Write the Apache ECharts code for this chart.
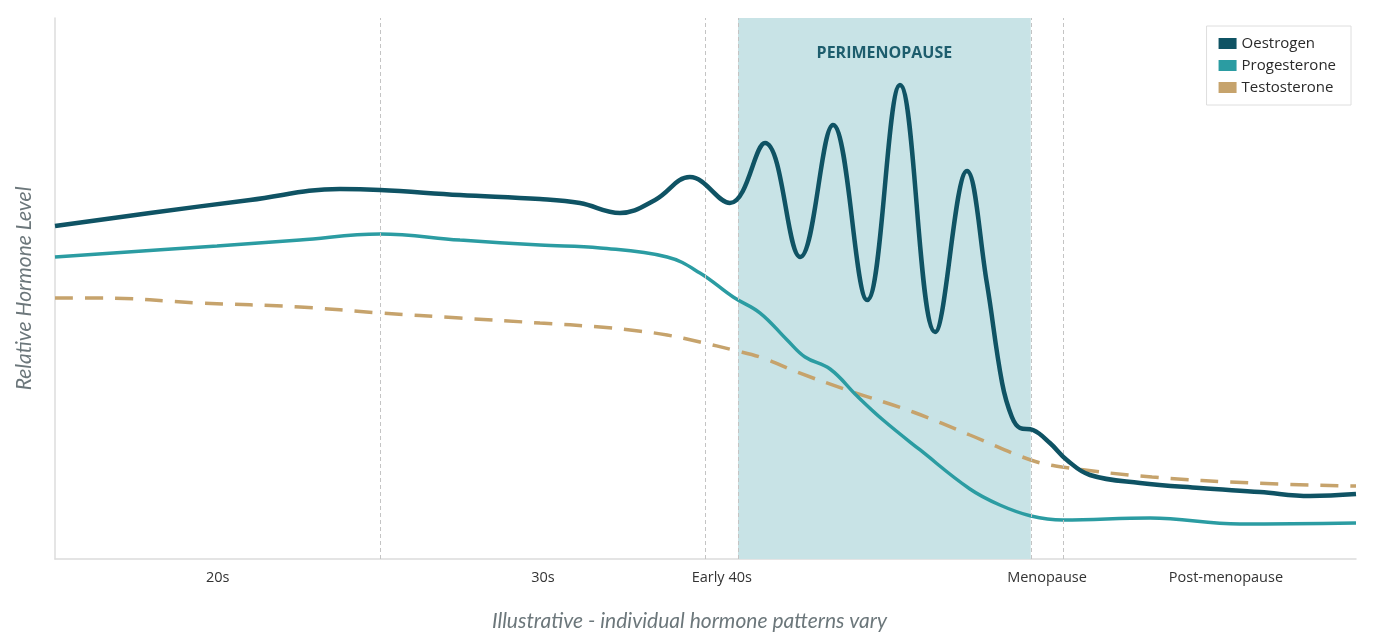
<!DOCTYPE html>
<html><head><meta charset="utf-8">
<script src="https://cdn.jsdelivr.net/npm/echarts@6/dist/echarts.min.js"></script>
<style>html,body{margin:0;padding:0;background:#fff}#c{width:1379px;height:639px}</style>
</head><body><div id="c"></div>
<script>
// x: life stage position (0–40), y: relative level (0–100)
const oestrogenX = [0,2.92,6.0,8.76,9.99,12.45,14.91,16.14,17.37,18.45,19.52,20.75,21.83,22.91,23.92,24.97,25.98,27.06,28.04,28.65,29.12,29.42,29.67,30.07,30.59,31.11,31.82,33.36,35.2,37.05,38.59,40];
const oestrogenY = [61.55,63.96,66.36,68.39,68.21,67.28,66.54,65.8,63.96,66.36,70.61,65.8,76.89,55.82,80.22,47.87,87.62,41.96,71.72,51.02,32.53,26.25,24.21,23.84,21.44,18.3,15.53,14.05,13.12,12.38,11.65,12.01];
const progesteroneX = [0,4.98,7.53,9.99,12.45,14.91,16.76,18.82,19.83,20.85,21.68,22.51,23.06,23.83,24.66,25.46,26.6,28.13,29.05,30.01,30.99,33.67,36.43,40];
const progesteroneY = [55.82,57.86,58.96,60.07,58.96,58.04,57.49,55.82,52.87,48.43,45.47,40.48,37.34,35.12,30.13,25.69,20.15,12.94,9.98,7.95,7.21,7.58,6.47,6.65];
const testosteroneX = [0,1.38,4.46,7.53,9.99,12.45,14.91,16.76,18.0,18.82,19.83,20.85,21.77,22.81,24.35,26.38,28.13,30.0,30.96,33.73,36.8,40];
const testosteroneY = [48.24,48.24,47.32,46.58,45.47,44.55,43.62,42.88,42.1,41.4,40.11,38.63,37.14,34.57,31.24,27.17,22.92,18.3,17.01,15.16,14.05,13.49];
const stageTickValues = [5,15,20.5,30.5,36];
const stageTickLabels = ['20s','30s','Early 40s','Menopause','Post-menopause'];
const dividerValues = [10,20,21,30,31];
const perimenopauseRange = [21,30];
const seriesNames = ['Oestrogen','Progesterone','Testosterone'];

const zip = (xs, ys) => xs.map((x, i) => [x, ys[i]]);
const colors = ['#0f5364','#2b9ca2','#c6a36c'];

const chart = echarts.init(document.getElementById('c'));
chart.setOption({
  animation: false,
  grid: {left: 55, right: 23, top: 18, bottom: 80, outerBoundsMode: 'none', containLabel: false},
  legend: {
    orient: 'vertical', right: 28, top: 26,
    backgroundColor: '#fff', borderColor: '#dedede', borderWidth: 1,
    padding: [10, 15, 10, 12], itemWidth: 18, itemHeight: 11, itemGap: 7,
    textStyle: {fontFamily: 'Open Sans', fontSize: 15, color: '#2a2a2a'},
    data: seriesNames.map(n => ({name: n, icon: 'rect'}))
  },
  xAxis: {
    type: 'value', min: 0, max: 40,
    splitLine: {show: false},
    axisLine: {show: true, lineStyle: {color: '#dcdcdc', width: 1.5}},
    axisTick: {show: false},
    axisLabel: {
      customValues: stageTickValues,
      formatter: v => { const i = stageTickValues.indexOf(v); return i >= 0 ? stageTickLabels[i] : ''; },
      fontFamily: 'Open Sans', fontSize: 14.5, color: '#333', margin: 11
    },
    name: 'Illustrative - individual hormone patterns vary',
    nameLocation: 'middle', nameGap: 52,
    nameTextStyle: {fontFamily: 'Lato', fontStyle: 'italic', fontSize: 21, color: '#6c777b', padding: [0, 32, 0, 0]}
  },
  yAxis: {
    type: 'value', min: 0, max: 100,
    splitLine: {show: false},
    axisLine: {show: true, lineStyle: {color: '#dcdcdc', width: 1.5}},
    axisTick: {show: false},
    axisLabel: {show: false},
    name: 'Relative Hormone Level',
    nameLocation: 'middle', nameGap: 20,
    nameTextStyle: {fontFamily: 'Lato', fontStyle: 'italic', fontSize: 21, color: '#6c777b'}
  },
  series: [
    {
      name: seriesNames[0], type: 'line', smooth: 0.4, symbol: 'none',
      data: zip(oestrogenX, oestrogenY), z: 5,
      itemStyle: {color: colors[0]}, lineStyle: {color: colors[0], width: 4.5},
      markArea: {
        silent: true,
        itemStyle: {color: '#c8e3e6'},
        label: {show: true, position: 'insideTop', distance: 27, formatter: 'PERIMENOPAUSE',
          fontFamily: 'Open Sans', fontWeight: 'bold', fontSize: 16, color: '#1d5d6d'},
        data: [[{xAxis: perimenopauseRange[0]}, {xAxis: perimenopauseRange[1]}]]
      },
      markLine: {
        silent: true, symbol: 'none', label: {show: false},
        lineStyle: {color: '#c4c4c4', type: [4, 3], width: 1},
        data: dividerValues.map(v => ({xAxis: v}))
      }
    },
    {
      name: seriesNames[1], type: 'line', smooth: 0.4, symbol: 'none',
      data: zip(progesteroneX, progesteroneY), z: 4,
      itemStyle: {color: colors[1]}, lineStyle: {color: colors[1], width: 3.5}
    },
    {
      name: seriesNames[2], type: 'line', smooth: 0.4, symbol: 'none',
      data: zip(testosteroneX, testosteroneY), z: 3,
      itemStyle: {color: colors[2]}, lineStyle: {color: colors[2], width: 3.5, type: [18, 12]}
    }
  ]
});
</script></body></html>
